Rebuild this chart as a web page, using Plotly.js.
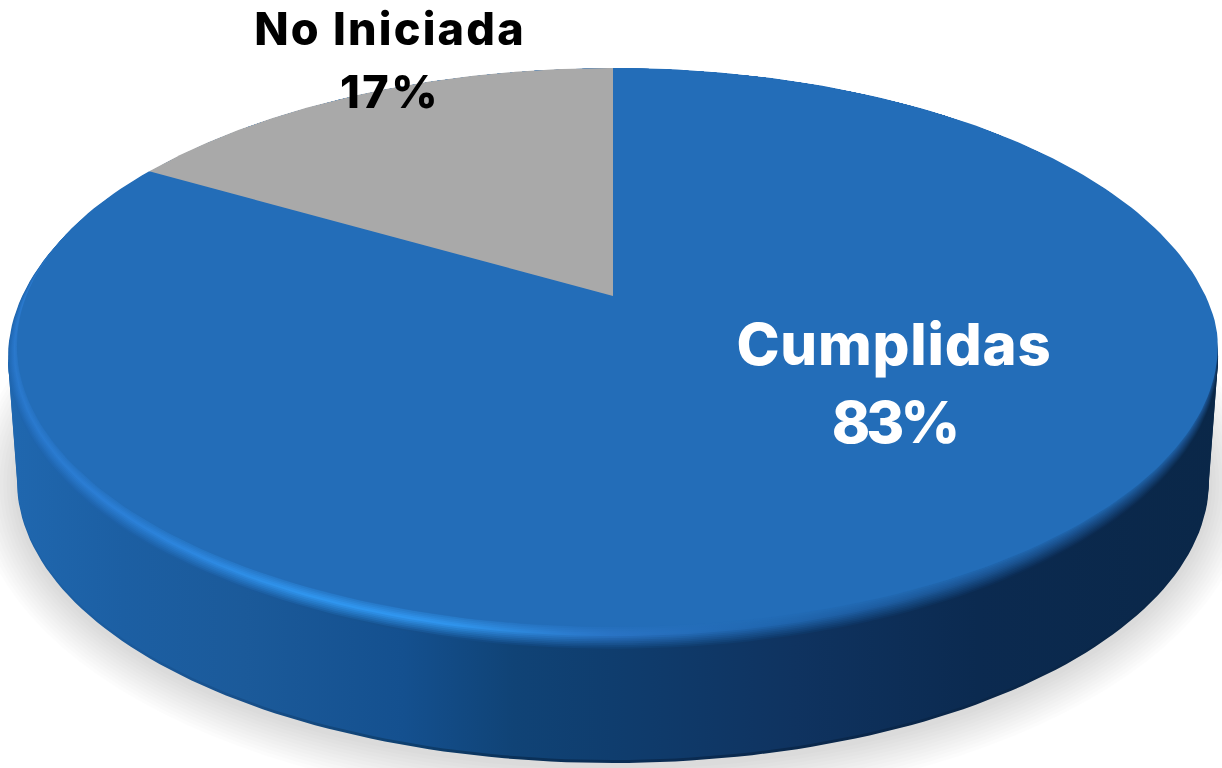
<!DOCTYPE html>
<html><head><meta charset="utf-8">
<script src="https://cdn.plot.ly/plotly-3.0.1.min.js"></script>
<style>html,body{margin:0;padding:0;background:#fff;overflow:hidden}#c{width:1222px;height:768px;filter:blur(0.6px)}</style>
</head><body><div id="c"></div>
<script>
const categories = ['Cumplidas', 'No Iniciada'];
const values = [83.3, 16.7];
const sliceColors = ['#236db8', '#a9a9a9'];
const labelColors = ['#ffffff', '#000000'];

// perspective projection of the pie's unit disc into plot coordinates
const W = 1222, H = 768, CX = 613, APEX = 296, K = 0.2165, B = 213.3, A = 592.6;
const project = (X, Y) => {
  const d = 1 - K * Y;
  return [CX + A * X / d, (APEX + B * Y) / d];
};
const N = 240;
// theta is clockwise from twelve o'clock; the bevel only exists on the near side
const nearness = theta => {
  const f = (1 - Math.cos(theta)) / 2;
  const start = Math.sin(theta) > 0 ? 0.55 : 0.33;
  return Math.pow(Math.max(0, (f - start) / (1 - start)), 1.2);
};
const rim = (theta, base, inset) => {
  const r = 1 - base - inset * nearness(theta);
  return project(r * Math.sin(theta), -r * Math.cos(theta));
};
const closedCurve = (base, inset) => {
  const x = [], y = [];
  for (let i = 0; i <= N; i++) {
    const p = rim(i / N * 2 * Math.PI, base, inset);
    x.push(p[0]); y.push(p[1]);
  }
  return {x, y};
};
const hex = c => [1, 3, 5].map(i => parseInt(c.substr(i, 2), 16));
const mix = (a, b, t) => {
  const p = hex(a), q = hex(b);
  return 'rgb(' + p.map((v, i) => Math.round(v + (q[i] - v) * t)).join(',') + ')';
};
const toHex = rgb => '#' + rgb.match(/\d+/g).map(v => (+v).toString(16).padStart(2, '0')).join('');

const wallStops = [[0,'#2068b0'],[0.1,'#1c5fa3'],[0.2,'#1b5a9a'],[0.33,'#14508f'],[0.42,'#104376'],[0.5,'#0f3d6e'],[0.65,'#0f3360'],[0.8,'#0b2a50'],[1,'#0a2748']];
const wallDark = [[0,'#1e64aa'],[0.1,'#1a5a9c'],[0.2,'#174f8a'],[0.33,'#0e4070'],[0.42,'#0a3159'],[0.5,'#0a2d55'],[0.65,'#0a284c'],[0.8,'#0a2648'],[1,'#0a2748']];
const glowStops = [[0,'#2a78cc'],[0.12,'#2b82da'],[0.25,'#3096f0'],[0.36,'#3199f2'],[0.5,'#2a74c6'],[0.62,'#2068b2'],[0.75,'#1c5a9c'],[0.9,'#184d88'],[1,'#184a82']];
const edgeStops = [[0,'#1f66b0'],[0.2,'#1a5a9c'],[0.4,'#124a84'],[0.55,'#103f72'],[0.7,'#0e3563'],[0.85,'#0b2b52'],[1,'#0a2748']];
const faceColor = sliceColors[0];
const gradientTrace = (x, y, stops) => ({
  x, y, type: 'scatter', mode: 'lines', fill: 'toself', hoverinfo: 'skip', showlegend: false,
  line: {width: 0, color: 'rgba(0,0,0,0)'},
  fillgradient: {type: 'horizontal', start: 0, stop: W, colorscale: stops}
});
const sampleStops = (stops, f) => {
  for (let i = 1; i < stops.length; i++) {
    if (f <= stops[i][0]) {
      const t = (f - stops[i-1][0]) / (stops[i][0] - stops[i-1][0]);
      return toHex(mix(stops[i-1][1], stops[i][1], t));
    }
  }
  return stops[stops.length-1][1];
};

const traces = [];
// soft ground shadow
for (let i = 0; i < 12; i++) {
  const grow = 42 - i * 3.5, x = [], y = [];
  for (let j = 0; j <= 120; j++) {
    const a = j / 120 * 2 * Math.PI;
    x.push(CX + (596 + grow) * Math.cos(a));
    y.push(484 + (282 + grow) * Math.sin(a));
  }
  traces.push({x, y, type: 'scatter', mode: 'lines', fill: 'toself', hoverinfo: 'skip', showlegend: false,
    line: {width: 0, color: 'rgba(0,0,0,0)'}, fillcolor: 'rgba(0,0,0,0.013)'});
}
// side wall
const wall = (dy, stops) => {
  const x = [], y = [];
  for (let j = 0; j <= 120; j++) {
    const a = Math.PI - j / 120 * Math.PI;
    x.push(CX + 596 * Math.cos(a));
    y.push(481 + dy + 282 * Math.sin(a));
  }
  x.push(1218, 8); y.push(362, 362);
  x.push(x[0]); y.push(y[0]);
  return gradientTrace(x, y, stops);
};
traces.push(wall(0, wallDark));
traces.push(wall(-3, wallStops));
// bevel: nested outlines blending wall edge -> highlight -> face
const LAYERS = 14, MAX_INSET = 0.052, BASE = 0.003;
for (let k = 0; k < LAYERS; k++) {
  const s = k / (LAYERS - 1), c = closedCurve(BASE, MAX_INSET * s);
  const stops = [];
  for (let i = 0; i <= 24; i++) {
    const f = i / 24, edge = sampleStops(edgeStops, f), glow = sampleStops(glowStops, f);
    const col = s < 0.55 ? mix(edge, glow, s / 0.55) : mix(glow, faceColor, (s - 0.55) / 0.45);
    stops.push([f, col]);
  }
  traces.push(gradientTrace(c.x, c.y, stops));
}
// slices, drawn from the values
const total = values.reduce((a, b) => a + b, 0);
let cum = 0;
categories.forEach((name, i) => {
  const a0 = cum / total * 2 * Math.PI;
  cum += values[i];
  const a1 = cum / total * 2 * Math.PI;
  const x = [CX], y = [APEX];
  const inset = i === 0 ? MAX_INSET : 0;
  for (let j = 0; j <= N; j++) {
    const p = rim(a0 + (a1 - a0) * j / N, 0, inset);
    x.push(p[0]); y.push(p[1]);
  }
  x.push(CX); y.push(APEX);
  traces.push({x, y, name, type: 'scatter', mode: 'lines', fill: 'toself', fillcolor: sliceColors[i],
    line: {width: 0, color: sliceColors[i]}, hoverinfo: 'name', showlegend: false});
});
// labels
const labelX = [894, 390];
const labelY = [[350, 428], [34, 97]];
const labelSize = [58, 45];
const labelSpacing = {'Cumplidas': 0.8, '83%': -4, 'No Iniciada': 2.2, '17%': 2.5};
categories.forEach((name, i) => {
  traces.push({
    x: [labelX[i], labelX[i]], y: labelY[i],
    text: [name, Math.round(values[i] / total * 100) + '%'],
    type: 'scatter', mode: 'text', textposition: 'middle center', hoverinfo: 'skip', showlegend: false,
    textfont: {family: 'Inter, "Liberation Sans", sans-serif', size: labelSize[i], color: labelColors[i], weight: 800}
  });
});

Plotly.newPlot('c', traces, {
  width: W, height: H, margin: {l: 0, r: 0, t: 0, b: 0},
  paper_bgcolor: '#ffffff', plot_bgcolor: '#ffffff', showlegend: false,
  xaxis: {range: [0, W], visible: false, fixedrange: true},
  yaxis: {range: [H, 0], visible: false, fixedrange: true}
}, {displayModeBar: false, staticPlot: true}).then(() => {
  document.querySelectorAll('#c .textpoint text').forEach(t => {
    const sp = labelSpacing[t.textContent];
    if (sp !== undefined) t.style.letterSpacing = sp + 'px';
  });
});
</script></body></html>
